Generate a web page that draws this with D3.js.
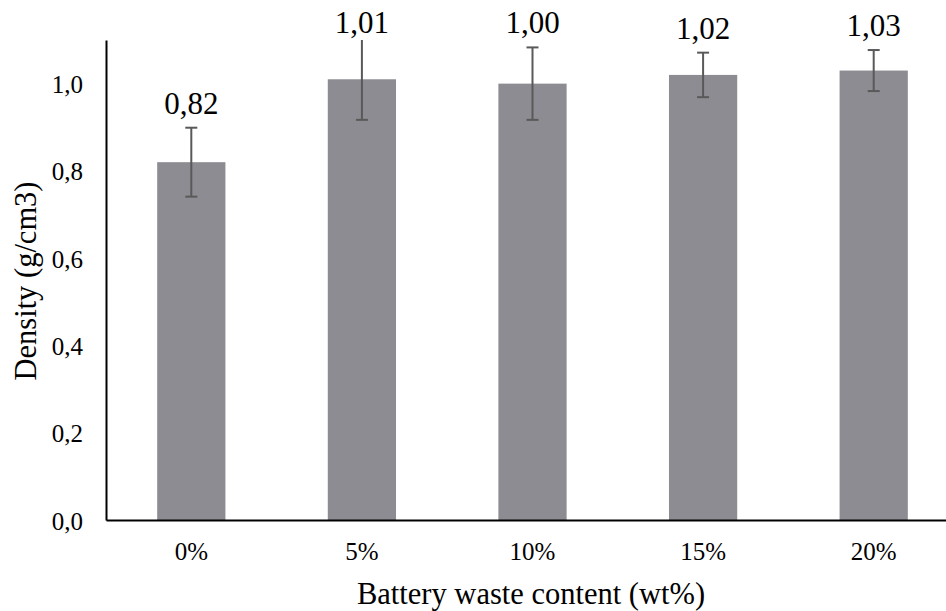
<!DOCTYPE html>
<html><head><meta charset="utf-8">
<script src="https://cdn.jsdelivr.net/npm/d3@7"></script>
</head><body style="margin:0">
<svg id="c" width="946" height="611"></svg>
<script>
const categories = ["0%", "5%", "10%", "15%", "20%"];
const densities = [0.82, 1.01, 1.00, 1.02, 1.03];
const labels = ["0,82", "1,01", "1,00", "1,02", "1,03"];
const errors = [0.079, 0.093, 0.083, 0.051, 0.047];
const yTicks = [0, 0.2, 0.4, 0.6, 0.8, 1.0];
const yTickLabels = ["0,0", "0,2", "0,4", "0,6", "0,8", "1,0"];

const FONT = '"Liberation Serif"';
const svg = d3.select("#c");
const x = d3.scaleBand().domain(categories).range([106, 959]).paddingInner(0.6).paddingOuter(0.3);
const y = d3.scaleLinear().domain([0, 1.1]).range([520, 40]);

svg.append("g").selectAll("rect").data(categories).join("rect")
  .attr("x", d => x(d)).attr("width", x.bandwidth())
  .attr("y", (d,i) => y(densities[i])).attr("height", (d,i) => y(0) - y(densities[i]))
  .attr("fill", "#8d8c92");

const eg = svg.append("g").attr("stroke","#595959").attr("stroke-width",2);
categories.forEach((c,i) => {
  const cx = x(c) + x.bandwidth()/2;
  const t = Math.max(y(densities[i] + errors[i]), y(1.1)), b = y(densities[i] - errors[i]);
  const topIn = y(densities[i] + errors[i]) >= y(1.1);
  eg.append("line").attr("x1",cx).attr("x2",cx).attr("y1",t).attr("y2",b);
  if (topIn) eg.append("line").attr("x1",cx-6).attr("x2",cx+6).attr("y1",t).attr("y2",t);
  eg.append("line").attr("x1",cx-6).attr("x2",cx+6).attr("y1",b).attr("y2",b);
});

svg.selectAll("text.v").data(categories).join("text").attr("class","v")
  .attr("x", d => x(d) + x.bandwidth()/2)
  .attr("y", (d,i) => Math.max(y(densities[i] + errors[i]) - 14, 33))
  .attr("text-anchor","middle")
  .style("font-family", FONT).attr("font-size",31)
  .text((d,i) => labels[i]);

const yAxis = svg.append("g").attr("transform","translate(106,0)")
  .call(d3.axisLeft(y).tickValues(yTicks).tickSize(0).tickPadding(23).tickFormat((d,i) => yTickLabels[i]));
yAxis.attr("font-family", null).attr("font-size", null);
yAxis.select(".domain").attr("stroke","#000").attr("stroke-width",2);
yAxis.selectAll("text").style("font-family", FONT).attr("font-size",25).attr("fill","#000").attr("dy","0.36em");

const xAxis = svg.append("g").attr("transform","translate(0,520)")
  .call(d3.axisBottom(x).tickSize(0).tickPadding(22));
xAxis.attr("font-family", null).attr("font-size", null);
xAxis.select(".domain").attr("stroke","#000").attr("stroke-width",2);
xAxis.selectAll("text").style("font-family", FONT).attr("font-size",25).attr("fill","#000");

svg.append("text").attr("x",531).attr("y",604).attr("text-anchor","middle")
  .style("font-family", FONT).attr("font-size",30.5)
  .text("Battery waste content (wt%)");
svg.append("text").attr("transform","translate(36,281) rotate(-90)").attr("text-anchor","middle")
  .style("font-family", FONT).attr("font-size",30.5)
  .text("Density (g/cm3)");
</script>
</body></html>
